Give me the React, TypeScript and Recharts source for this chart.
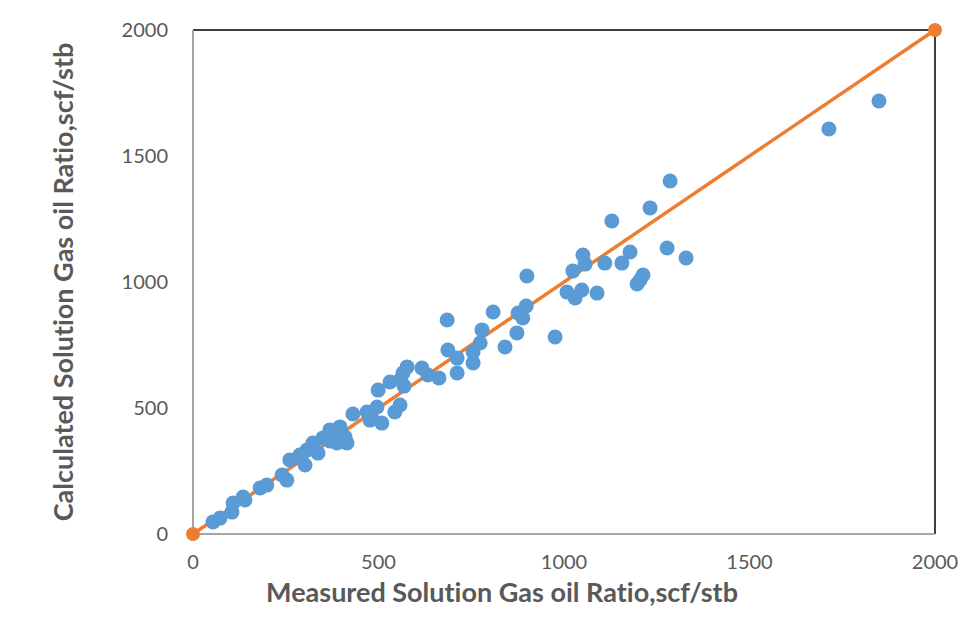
import {
  ReferenceLine,
  Scatter,
  ScatterChart,
  XAxis,
  YAxis,
} from "recharts";

// measured vs calculated Rs, scf/stb
const measured = [
  54, 73, 105, 108, 135, 140, 181, 199, 240, 253, 261, 288, 302, 307, 323, 337,
  350, 369, 369, 396, 388, 410, 415, 404, 431, 469, 477, 482, 496, 509, 499,
  531, 558, 569, 558, 544, 577, 566, 617, 633, 663, 687, 712, 712, 685, 755,
  755, 774, 779, 809, 841, 873, 876, 889, 898, 900, 976, 1008, 1030, 1048, 1024,
  1051, 1057, 1089, 1110, 1129, 1156, 1178, 1197, 1213, 1205, 1232, 1278, 1286,
  1329, 1714, 1849,
];
const calculated = [
  48, 63, 87, 123, 147, 135, 183, 194, 234, 214, 294, 313, 274, 333, 361, 321,
  381, 413, 369, 425, 361, 385, 361, 385, 476, 484, 452, 460, 504, 440, 571,
  603, 611, 587, 512, 484, 663, 639, 659, 631, 619, 730, 698, 639, 849, 722,
  679, 758, 810, 881, 742, 798, 877, 857, 905, 1024, 782, 960, 937, 968, 1044,
  1107, 1071, 956, 1075, 1242, 1075, 1119, 992, 1028, 1008, 1294, 1135, 1401,
  1095, 1607, 1718,
];
const lineEnds = [0, 2000];
const ticks = [0, 500, 1000, 1500, 2000];

const points = measured.map((x, i) => ({ x, y: calculated[i] }));
const unitLine = lineEnds.map((v) => ({ x: v, y: v }));

const FONT = "Lato, 'Liberation Sans', sans-serif";
const TEXT = "#595959";

const dot = (fill: string, r: number) => (props: any) =>
  <circle cx={props.cx} cy={props.cy} r={r} fill={fill} />;

const App = () => {
  return (
    <div
      style={{
        position: "relative",
        width: 979,
        height: 629,
        margin: -8,
        overflow: "hidden",
        background: "#fff",
        fontFamily: FONT,
        fontVariantLigatures: "none",
      }}
    >
      <div
        style={{
          position: "absolute",
          left: 5,
          top: 3,
          width: 990,
          height: 640,
          border: "1px solid #d9d9d9",
        }}
      />
      <div style={{ position: "absolute", left: 0, top: 0 }}>
        <ScatterChart
          width={979}
          height={629}
          margin={{ top: 30, right: 44, bottom: 35, left: 113 }}
        >
          <XAxis
            type="number"
            dataKey="x"
            domain={[0, 2000]}
            ticks={ticks}
            tickLine={false}
            tickMargin={15}
            height={60}
            axisLine={{ stroke: "#a6a6a6", strokeWidth: 2 }}
            tick={{ fill: TEXT, fontSize: 20, fontFamily: FONT }}
            label={{
              content: () => (
                <text
                  x={502}
                  y={591}
                  textAnchor="middle"
                  dominantBaseline="central"
                  fill={TEXT}
                  fontSize={27}
                  fontWeight="bold"
                  fontFamily={FONT}
                  style={{ fontVariantLigatures: "none" }}
                >
                  Measured Solution Gas oil Ratio,scf/stb
                </text>
              ),
            }}
          />
          <YAxis
            type="number"
            dataKey="y"
            domain={[0, 2000]}
            ticks={ticks}
            tickLine={false}
            tickMargin={19}
            width={80}
            axisLine={{ stroke: "#a6a6a6", strokeWidth: 2 }}
            tick={{ fill: TEXT, fontSize: 20, fontFamily: FONT }}
            label={{
              content: () => (
                <text
                  x={62}
                  y={282}
                  transform="rotate(-90, 62, 282)"
                  textAnchor="middle"
                  dominantBaseline="central"
                  fill={TEXT}
                  fontSize={27}
                  fontWeight="bold"
                  fontFamily={FONT}
                  style={{ fontVariantLigatures: "none" }}
                >
                  Calculated Solution Gas oil Ratio,scf/stb
                </text>
              ),
            }}
          />
          <ReferenceLine y={2000} stroke="#000" strokeWidth={1.5} />
          <ReferenceLine x={2000} stroke="#000" strokeWidth={1.5} />
          <Scatter
            data={unitLine}
            fill="#ED7D31"
            line={{ stroke: "#ED7D31", strokeWidth: 3.5 }}
            lineType="joint"
            shape={dot("#ED7D31", 7)}
            isAnimationActive={false}
          />
          <Scatter
            data={points}
            fill="#5B9BD5"
            shape={dot("#5B9BD5", 7.5)}
            isAnimationActive={false}
          />
        </ScatterChart>
      </div>
    </div>
  );
};

export default App;
